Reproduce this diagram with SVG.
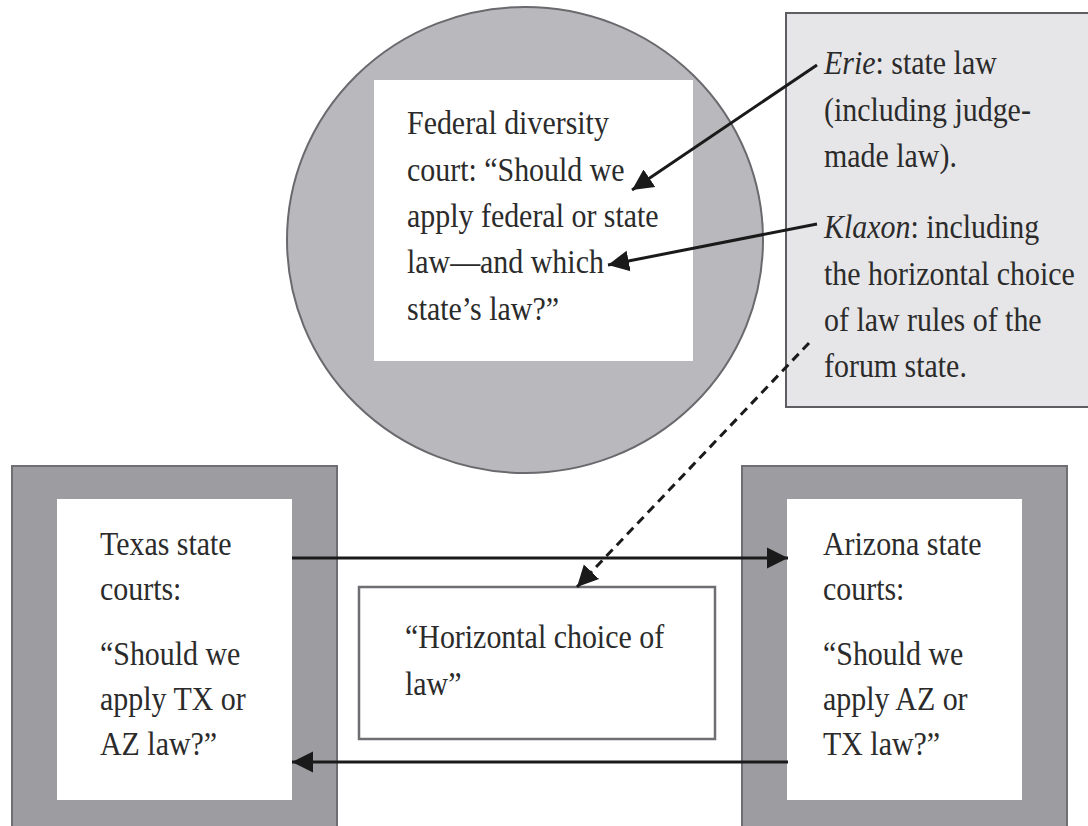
<svg xmlns="http://www.w3.org/2000/svg" width="1088" height="826" viewBox="0 0 1088 826">
<style>
  text { font-family: "Liberation Serif", "Times New Roman", serif; font-size: 34px; fill: #2b2b2b; }
  .outer { fill: #9c9ca1; stroke: #6e6e73; stroke-width: 2; }
  .inner { fill: #ffffff; stroke: none; }
  .arrow { stroke: #1a1a1a; stroke-width: 3; fill: none; }
  .dash { stroke: #1a1a1a; stroke-width: 3; fill: none; stroke-dasharray: 9 6; }
</style>
<defs>
  <marker id="ah" viewBox="0 0 10 10" refX="10" refY="5" markerWidth="7" markerHeight="8" markerUnits="strokeWidth" orient="auto">
    <path d="M0,0 L10,5 L0,10 Z" fill="#1a1a1a"/>
  </marker>
</defs>
<rect width="1088" height="826" fill="#ffffff"/>

<g id="federal-court">
  <ellipse cx="525" cy="240" rx="238" ry="233" fill="#b9b9bd" stroke="#6a6a6e" stroke-width="2"/>
  <rect class="inner" x="374" y="80" width="319" height="281"/>
  <g transform="translate(407,0) scale(0.88,1)">
    <text x="0" y="134">Federal diversity</text>
    <text x="0" y="181">court: “Should we</text>
    <text x="0" y="227">apply federal or state</text>
    <text x="0" y="273">law—and which</text>
    <text x="0" y="320">state’s law?”</text>
  </g>
</g>

<g id="case-law">
  <rect x="786" y="13" width="303" height="394" fill="#e6e6e8" stroke="#5e5e62" stroke-width="2"/>
  <g transform="translate(824,0) scale(0.88,1)">
    <text x="0" y="74"><tspan font-style="italic">Erie</tspan>: state law</text>
    <text x="0" y="121">(including judge-</text>
    <text x="0" y="167">made law).</text>
    <text x="0" y="238"><tspan font-style="italic">Klaxon</tspan>: including</text>
    <text x="0" y="285">the horizontal choice</text>
    <text x="0" y="331">of law rules of the</text>
    <text x="0" y="377">forum state.</text>
  </g>
</g>

<g id="texas-courts">
  <rect class="outer" x="12" y="466" width="325" height="362"/>
  <rect class="inner" x="57" y="499" width="235" height="301"/>
  <g transform="translate(100,0) scale(0.88,1)">
    <text x="0" y="555">Texas state</text>
    <text x="0" y="600">courts:</text>
    <text x="0" y="665">“Should we</text>
    <text x="0" y="710">apply TX or</text>
    <text x="0" y="755">AZ law?”</text>
  </g>
</g>

<g id="arizona-courts">
  <rect class="outer" x="742" y="466" width="325" height="362"/>
  <rect class="inner" x="787" y="499" width="235" height="301"/>
  <g transform="translate(823,0) scale(0.88,1)">
    <text x="0" y="555">Arizona state</text>
    <text x="0" y="600">courts:</text>
    <text x="0" y="665">“Should we</text>
    <text x="0" y="710">apply AZ or</text>
    <text x="0" y="755">TX law?”</text>
  </g>
</g>

<g id="horizontal-choice">
  <rect x="359" y="587" width="356" height="152" fill="#ffffff" stroke="#6e6e73" stroke-width="2.5"/>
  <g transform="translate(405,0) scale(0.88,1)">
    <text x="0" y="648">“Horizontal choice of</text>
    <text x="0" y="695">law”</text>
  </g>
</g>

<g id="connectors">
  <line class="arrow" x1="817" y1="65" x2="632" y2="190" marker-end="url(#ah)"/>
  <line class="arrow" x1="817" y1="224" x2="608" y2="265" marker-end="url(#ah)"/>
  <line class="dash" x1="809" y1="343" x2="577" y2="587" marker-end="url(#ah)"/>
  <line class="arrow" x1="292" y1="558" x2="788" y2="558" marker-end="url(#ah)"/>
  <line class="arrow" x1="788" y1="762" x2="292" y2="762" marker-end="url(#ah)"/>
</g>
</svg>
